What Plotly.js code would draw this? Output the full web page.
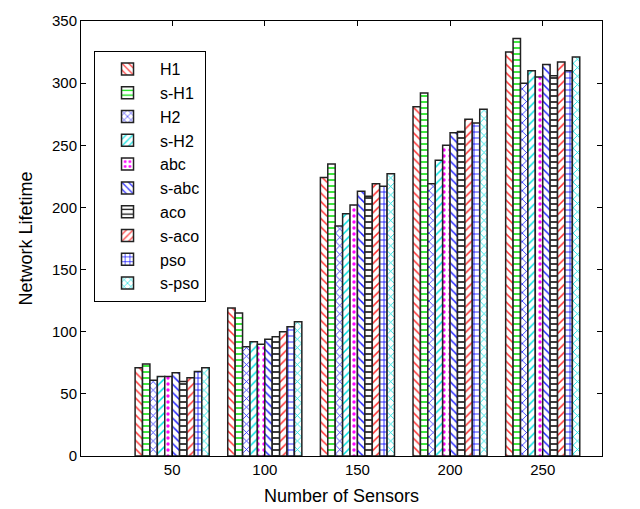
<!DOCTYPE html>
<html>
<head>
<meta charset="utf-8">
<script src="https://cdn.plot.ly/plotly-3.0.1.min.js"></script>
<style>body{margin:0;background:#fff}#chart{width:640px;height:509px}</style>
</head>
<body>
<div id="chart"></div>
<script>
var sensors = [50, 100, 150, 200, 250];
var seriesNames = ["H1", "s-H1", "H2", "s-H2", "abc", "s-abc", "aco", "s-aco", "pso", "s-pso"];
var H1    = [71, 119, 224, 281, 325];
var sH1   = [74, 115, 235, 292, 336];
var H2    = [61, 88, 185, 219, 300];
var sH2   = [64, 92, 195, 238, 310];
var abc   = [64, 90, 202, 250, 305];
var sabc  = [67, 94, 213, 260, 315];
var aco   = [60, 96, 209, 261, 306];
var saco  = [63, 100, 219, 271, 317];
var pso   = [68, 104, 217, 268, 310];
var spso  = [71, 108, 227, 279, 321];
var seriesValues = [H1, sH1, H2, sH2, abc, sabc, aco, saco, pso, spso];

var styles = [
  {shape: "\\", color: "#ff3030"},
  {shape: "-",  color: "#00e000"},
  {shape: "x",  color: "#2020ff"},
  {shape: "/",  color: "#00e0e0"},
  {shape: ".",  color: "#ff00ff"},
  {shape: "\\", color: "#2020ff"},
  {shape: "-",  color: "#000000"},
  {shape: "/",  color: "#ff3030"},
  {shape: "+",  color: "#0000ff"},
  {shape: "x",  color: "#00e0e0"}
];

var traces = seriesNames.map(function (name, i) {
  return {
    type: "bar",
    name: name,
    x: sensors,
    y: seriesValues[i],
    marker: {
      color: "#ffffff",
      line: {color: "#222222", width: 1.5},
      pattern: {shape: styles[i].shape, fgcolor: styles[i].color, bgcolor: "#ffffff", size: 6, solidity: 0.25}
    }
  };
});

var font = "Liberation Sans, Arial, sans-serif";
var layout = {
  width: 640, height: 509,
  margin: {l: 81, r: 38, t: 21, b: 53},
  paper_bgcolor: "#ffffff", plot_bgcolor: "#ffffff",
  barmode: "group", bargap: 0.2, bargroupgap: 0,
  font: {family: font, size: 14, color: "#000"},
  showlegend: true,
  legend: {
    x: 0.025, y: 0.931, xanchor: "left", yanchor: "top",
    bgcolor: "#ffffff", bordercolor: "#000", borderwidth: 1,
    font: {family: font, size: 16, color: "#000"},
    itemwidth: 55
  },
  xaxis: {
    range: [0.8, 282],
    tickvals: sensors, ticktext: sensors.map(String),
    ticks: "inside", ticklen: 5, tickcolor: "#000",
    showline: true, linecolor: "#000", linewidth: 1, mirror: "ticks",
    showgrid: false, zeroline: false,
    tickfont: {family: font, size: 15},
    title: {text: "Number of Sensors", font: {family: font, size: 18}, standoff: 12}
  },
  yaxis: {
    range: [0, 350], dtick: 50,
    ticks: "inside", ticklen: 5, tickcolor: "#000",
    showline: true, linecolor: "#000", linewidth: 1, mirror: "ticks",
    showgrid: false, zeroline: false,
    tickfont: {family: font, size: 15},
    title: {text: "Network Lifetime", font: {family: font, size: 18}, standoff: 14}
  }
};

Plotly.newPlot("chart", traces, layout, {displayModeBar: false});
</script>
</body>
</html>
